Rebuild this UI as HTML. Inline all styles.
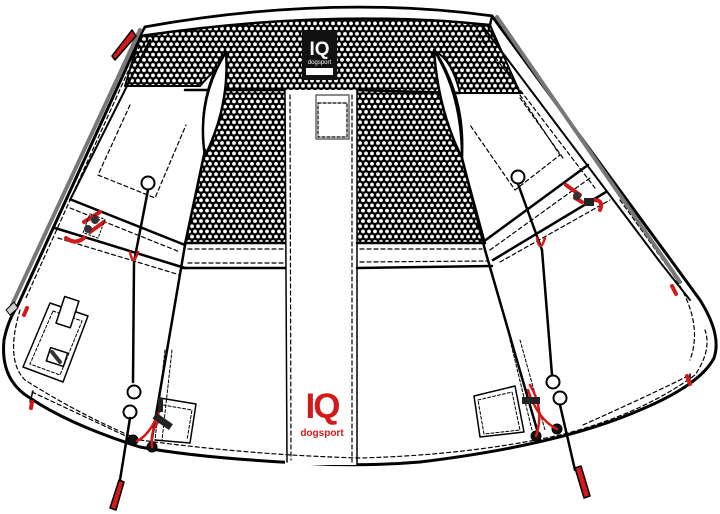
<!DOCTYPE html>
<html><head><meta charset="utf-8"><style>
html,body{margin:0;padding:0;background:#fff;width:720px;height:514px;overflow:hidden}
svg{display:block}
text{font-family:"Liberation Sans",sans-serif}
</style></head><body>
<svg width="720" height="514" viewBox="0 0 720 514" xmlns="http://www.w3.org/2000/svg">
<defs>
<pattern id="mesh" width="6" height="10.4" patternUnits="userSpaceOnUse">
<rect width="6" height="10.4" fill="#000"/>
<circle cx="3" cy="2.6" r="1.9" fill="#fff"/>
<circle cx="0" cy="7.8" r="1.9" fill="#fff"/>
<circle cx="6" cy="7.8" r="1.9" fill="#fff"/>
</pattern>
</defs>
<g fill="none" stroke="#000" stroke-linejoin="round" stroke-linecap="round">
<path d="M145,27 Q330,-6 492,16 L665,252 L700,300 Q722,335 714,358 Q700,385 640,410 Q560,445 420,462 Q360,467 300,463 Q200,458 140,447 Q70,425 30,398 Q0,380 4,340 Q8,320 18,305 Z" fill="#fff" stroke-width="3"/>
<path d="M140,36 Q330,8 490,25 L520,93 L460,93 Q452,60 436,52 Q466,100 462,158 L485,243 L185,243 L205,150 Q198,110 215,70 Q205,80 200,86 L125,86 Z" fill="url(#mesh)" stroke-width="2"/>
<path d="M145,27 Q330,-6 492,16 L490,25 Q330,8 140,36 Z" fill="#fff" stroke-width="2.5"/>
<path d="M185,90 L285,90 M357,90 L460,93" stroke-width="2.5"/>
<path d="M125,86 L200,86 M460,93 L522,93" stroke-width="2"/>
<path d="M226,52 Q196,100 205,156 Q230,105 226,52 Z" fill="#fff" stroke-width="2.5"/>
<path d="M434,50 Q462,95 462,158 Q438,110 434,50 Z" fill="#fff" stroke-width="2.5"/>
<rect x="285" y="90" width="72" height="375" fill="#fff" stroke="none"/>
<path d="M285,90 L287,462 M357,90 L357,465" stroke-width="1.5"/>
<path d="M290,95 L291,460 M352,95 L352,462" stroke-width="1.2" stroke-dasharray="4 3"/>
<rect x="316" y="95" width="33" height="44" stroke-width="1.2" stroke="#444"/>
<rect x="318" y="103" width="29" height="34" stroke-width="1.2" stroke-dasharray="3 2"/>
<path d="M185,243 L285,243 M357,243 L485,243" stroke-width="2.5"/>
<path d="M183,268 L285,268 M357,268 L492,266" stroke-width="2.5"/>
<path d="M188,249 L283,249 M188,263 L283,263 M360,249 L482,249 M360,262 L488,261" stroke-width="1.2" stroke-dasharray="4 3"/>
<path d="M205,150 L185,245 L150,450" stroke-width="2.5"/>
<path d="M462,158 L485,250 L540,440" stroke-width="2.5"/>
<path d="M72,200 L185,245 M55,228 L185,268" stroke-width="2.5"/>
<path d="M70,208 L180,252 M58,238 L180,275" stroke-width="1.2" stroke-dasharray="4 3"/>
<path d="M483,242 L588,165 M493,260 L606,192" stroke-width="2.5"/>
<path d="M490,250 L590,178 M500,262 L610,200" stroke-width="1.2" stroke-dasharray="4 3"/>
<path d="M140,45 L25,300" stroke-width="1.2" stroke-dasharray="4 3"/>
<path d="M150,40 L70,200" stroke-width="2"/>
<path d="M484,28 L660,262 L690,300" stroke-width="2"/>
<path d="M478,35 L595,188 M620,200 L670,270 Q705,320 690,360" stroke-width="1.2" stroke-dasharray="4 3"/>
<path d="M130,105 L98,175 L155,198 L186,125" stroke-width="1.2" stroke-dasharray="4 3"/>
<path d="M520,95 L560,155 L515,190 L470,125" stroke-width="1.2" stroke-dasharray="4 3"/>
<path d="M520,98 L563,158" stroke-width="1.2" stroke-dasharray="4 3"/>
<path d="M50,303 L88,316 L63,382 L23,367 Z" stroke-width="1.5"/>
<path d="M53,311 L82,321 L60,375 L30,364 Z" stroke-width="1" stroke-dasharray="3 2"/>
<rect x="60" y="298" width="15" height="28" transform="rotate(18 67 312)" fill="#fff" stroke-width="1.5"/>
<rect x="48" y="350" width="18" height="14" transform="rotate(18 57 357)" stroke-width="1.5"/>
<path d="M52,352 L60,362" stroke-width="4" stroke="#333"/>
<path d="M20,310 Q5,360 25,380 Q80,415 140,440 Q250,455 360,458 Q470,455 560,435 Q640,415 695,375 Q712,350 705,330" stroke-width="1.2" stroke-dasharray="4 3"/>
<path d="M32,392 L130,438" stroke-width="1.2" stroke-dasharray="4 3"/>
<path d="M33,391 L30,402" stroke-width="1.5"/>
<path d="M583,425 Q650,395 690,375" stroke-width="1.2" stroke-dasharray="4 3"/>
<path d="M690,374 L690,385" stroke-width="1.5"/>
<path d="M160,398 L196,404 L190,443 L155,440" stroke-width="1.5"/>
<path d="M163,405 L192,410 L187,440" stroke-width="1" stroke-dasharray="3 2"/>
<path d="M165,350 L155,440 M172,350 L162,440" stroke-width="1" stroke-dasharray="3 2"/>
<path d="M474,396 L515,386 L524,432 L480,437 Z" stroke-width="1.5"/>
<path d="M478,400 L512,392 L520,430 L484,434 Z" stroke-width="1" stroke-dasharray="3 2"/>
<path d="M510,340 L532,430 M520,340 L545,430" stroke-width="1" stroke-dasharray="3 2"/>
<circle cx="148" cy="183" r="6.5" fill="#fff" stroke-width="2"/>
<path d="M148,190 L134,262 L133,382" stroke-width="2.5"/>
<circle cx="134" cy="392" r="6.5" fill="#fff" stroke-width="2"/>
<circle cx="130" cy="412" r="6.5" fill="#fff" stroke-width="2"/>
<path d="M130,418 L120,480" stroke-width="2.5"/>
<path d="M119,480 L124,482 L116,510 L110,508 Z" fill="#d21a1a" stroke-width="1.5"/>
<path d="M130,252 Q133,268 138,252" stroke="#d21a1a" stroke-width="2.5"/>
<circle cx="518" cy="177" r="6.5" fill="#fff" stroke-width="2"/>
<path d="M518,184 L542,250 L552,375" stroke-width="2.5"/>
<circle cx="553" cy="382" r="6.5" fill="#fff" stroke-width="2"/>
<circle cx="560" cy="398" r="6.5" fill="#fff" stroke-width="2"/>
<path d="M560,405 L575,470" stroke-width="2.5"/>
<path d="M575,468 L581,466 L590,496 L584,498 Z" fill="#d21a1a" stroke-width="1.5"/>
<path d="M537,238 Q540,254 545,238" stroke="#d21a1a" stroke-width="2.5"/>
<circle cx="133" cy="440" r="5" fill="#111" stroke-width="1"/>
<circle cx="152" cy="447" r="5" fill="#111" stroke-width="1"/>
<path d="M137,441 Q150,435 160,410 M152,447 Q150,430 160,420" stroke="#d21a1a" stroke-width="2.5"/>
<rect x="153" y="418" width="20" height="7" transform="rotate(35 163 421)" fill="#222" stroke="none"/>
<rect x="158" y="398" width="5" height="14" fill="#222" stroke="none"/>
<circle cx="536" cy="436" r="5" fill="#111" stroke-width="1"/>
<circle cx="557" cy="429" r="5" fill="#111" stroke-width="1"/>
<path d="M530,385 Q545,410 536,436 M528,390 Q538,420 557,429" stroke="#d21a1a" stroke-width="2.5"/>
<rect x="522" y="397" width="18" height="7" fill="#222" stroke="none"/>
<path d="M66,238 Q75,245 84,238 M84,222 L100,212 M90,232 L104,222" stroke="#d21a1a" stroke-width="4"/>
<rect x="86" y="216" width="16" height="20" transform="rotate(20 94 226)" stroke-width="1" stroke-dasharray="2 2"/>
<circle cx="88" cy="229" r="4" fill="#333" stroke="none"/>
<circle cx="95" cy="220" r="4" fill="#333" stroke="none"/>
<path d="M566,185 L580,195 M575,198 L582,202 M594,200 Q604,200 600,210" stroke="#d21a1a" stroke-width="4"/>
<circle cx="577" cy="196" r="4" fill="#333" stroke="none"/>
<rect x="584" y="198" width="10" height="8" fill="#222" stroke="none"/>
<path d="M140,30 L12,305" stroke="#777" stroke-width="4" stroke-dasharray="1.5 1.5"/>
<path d="M497,17 L680,282" stroke="#777" stroke-width="4" stroke-dasharray="1.5 1.5"/>
<path d="M136,36 L115,60 L112,56 L132,30 Z" fill="#d21a1a" stroke-width="1.5"/>
<path d="M14,302 L6,310 L10,315 L18,308 Z" fill="#ccc" stroke-width="1"/>
<path d="M27,308 L24,315 M672,286 L676,294 M687,376 L690,384 M32,402 L31,408" stroke="#d21a1a" stroke-width="4"/>
</g>
<rect x="302" y="30" width="35" height="50" fill="#111"/>
<text x="319.5" y="55" font-size="19" font-weight="bold" fill="#fff" text-anchor="middle">IQ</text>
<text x="319.5" y="64" font-size="6" fill="#fff" text-anchor="middle">dogsport</text>
<rect x="306" y="68" width="27" height="7" fill="#fff"/>
<text x="322" y="418" font-size="35" font-weight="bold" fill="#d21a1a" text-anchor="middle" letter-spacing="-2">IQ</text>
<text x="322" y="436" font-size="10" font-weight="bold" fill="#d21a1a" text-anchor="middle">dogsport</text>
</svg>
</body></html>
